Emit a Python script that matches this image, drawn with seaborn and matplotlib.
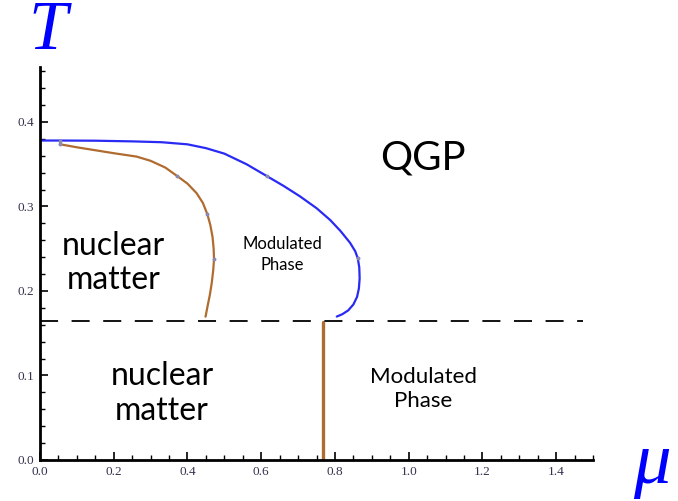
import matplotlib
matplotlib.use("Agg")
import matplotlib.pyplot as plt
import seaborn as sns
import pandas as pd
from matplotlib.ticker import MultipleLocator

sns.set_theme(style="white")

# crossover line (blue): QGP boundary
blue_mu = [0.00, 0.054, 0.15, 0.25, 0.33, 0.40, 0.45, 0.50, 0.56, 0.615, 0.66, 0.705,
           0.75, 0.787, 0.815, 0.841, 0.855, 0.862, 0.866, 0.867, 0.865, 0.860, 0.850,
           0.836, 0.820, 0.805]
blue_T = [0.378, 0.378, 0.3778, 0.3770, 0.3760, 0.3735, 0.3690, 0.3625, 0.3500, 0.336,
          0.3245, 0.312, 0.298, 0.284, 0.271, 0.257, 0.247, 0.2387, 0.228, 0.215, 0.203,
          0.193, 0.184, 0.177, 0.1725, 0.1697]
blue_pts_mu = [0.054, 0.615, 0.862]
blue_pts_T = [0.378, 0.336, 0.2387]

# nuclear matter boundary (brown)
brown_mu = [0.054, 0.10, 0.15, 0.20, 0.262, 0.30, 0.34, 0.372, 0.40, 0.425, 0.442, 0.454,
            0.462, 0.468, 0.471, 0.472, 0.470, 0.466, 0.461, 0.455, 0.449]
brown_T = [0.3736, 0.3700, 0.3665, 0.3630, 0.3590, 0.3540, 0.3460, 0.336, 0.3270, 0.3156,
           0.3040, 0.2907, 0.278, 0.264, 0.250, 0.2379, 0.225, 0.210, 0.196, 0.183, 0.1696]
brown_pts_mu = [0.054, 0.372, 0.454, 0.472]
brown_pts_T = [0.3736, 0.336, 0.2907, 0.2379]

# vertical boundary below the dashed line
vert_mu = [0.767, 0.767]
vert_T = [0.0, 0.163]

# dashed horizontal line
dash_mu = [0.0, 1.473]
dash_T = [0.165, 0.165]

labels = [
    ("QGP", 1.039, 0.357, 29, 1.15),
    ("nuclear\nmatter", 0.200, 0.233, 23, 1.15),
    ("Modulated\nPhase", 0.657, 0.243, 12, 1.35),
    ("nuclear\nmatter", 0.331, 0.079, 23, 1.2),
    ("Modulated\nPhase", 1.039, 0.084, 16, 1.2),
]

blue = "#2a2af5"
brown = "#b06c30"

fig = plt.figure(figsize=(6.78, 5.01), dpi=100)
ax = fig.add_axes([40 / 678, 41 / 501, 553 / 678, 393 / 501])

curve_blue = pd.DataFrame({"mu": blue_mu, "T": blue_T})
curve_brown = pd.DataFrame({"mu": brown_mu, "T": brown_T})
curve_vert = pd.DataFrame({"mu": vert_mu, "T": vert_T})
sns.lineplot(data=curve_blue, x="mu", y="T", sort=False, estimator=None,
             color=blue, lw=1.6, ax=ax)
sns.lineplot(data=curve_brown, x="mu", y="T", sort=False, estimator=None,
             color=brown, lw=1.6, ax=ax)
sns.lineplot(data=curve_vert, x="mu", y="T", sort=False, estimator=None,
             color=brown, lw=2.4, ax=ax)
ax.plot(dash_mu, dash_T, color="black", lw=1.3, dashes=(10, 7.5))
sns.scatterplot(x=blue_pts_mu + brown_pts_mu, y=blue_pts_T + brown_pts_T,
                color="#8a8ab0", s=8, linewidth=0, ax=ax, zorder=5)

for txt, x, y, fs, ls in labels:
    ax.text(x, y, txt, ha="center", va="center", fontsize=fs,
            family=["Lato", "DejaVu Sans"], color="black", linespacing=ls)

ax.set_xlim(0, 1.5)
ax.set_ylim(0, 0.465)
ax.xaxis.set_minor_locator(MultipleLocator(0.05))
ax.yaxis.set_minor_locator(MultipleLocator(0.02))
ax.set_xticks([0.0, 0.2, 0.4, 0.6, 0.8, 1.0, 1.2, 1.4])
ax.set_xticklabels(["0.0", "0.2", "0.4", "0.6", "0.8", "1.0", "1.2", "1.4"])
ax.set_yticks([0.0, 0.1, 0.2, 0.3, 0.4])
ax.set_yticklabels(["0.0", "0.1", "0.2", "0.3", "0.4"])
ax.tick_params(which="major", direction="in", length=6, width=1.2, color="black",
               labelsize=9.5, labelcolor="#33334f", pad=4)
ax.tick_params(which="minor", direction="in", length=3.5, width=1, color="black")
ax.tick_params(axis="both", which="both", bottom=True, left=True)
for lab in ax.get_xticklabels() + ax.get_yticklabels():
    lab.set_family("Liberation Serif")

for side in ["top", "right"]:
    ax.spines[side].set_visible(False)
for side in ["left", "bottom"]:
    ax.spines[side].set_color("black")
    ax.spines[side].set_linewidth(2)
ax.set_xlabel("")
ax.set_ylabel("")
ax.grid(False)

fig.text(28 / 678, 1 - 49 / 501, "T", ha="left", va="baseline", fontsize=50,
         family="Liberation Serif", style="italic", color="#0000ff")
fig.text(633 / 678, 1 - 483 / 501, "\u03bc", ha="left", va="baseline", fontsize=54,
         family="Liberation Serif", style="italic", color="#0000ff")

fig.savefig("out.png", dpi=100, facecolor="white")
